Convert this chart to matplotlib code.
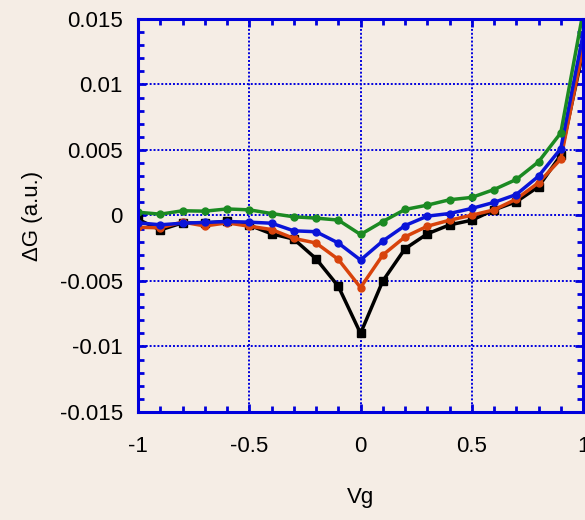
import numpy as np
import matplotlib.pyplot as plt
from matplotlib.ticker import MultipleLocator

plt.rcParams['font.family'] = ['Liberation Sans', 'DejaVu Sans']

vg = [-1.0, -0.9, -0.8, -0.7, -0.6, -0.5, -0.4, -0.3, -0.2, -0.1, 0.0,
      0.1, 0.2, 0.3, 0.4, 0.5, 0.6, 0.7, 0.8, 0.9, 1.0]

dg_black = [-0.0003, -0.0011, -0.00056, -0.0006, -0.00043, -0.00074, -0.0014,
            -0.0018, -0.0033, -0.0054, -0.0090,
            -0.0050, -0.00254, -0.0014, -0.00072, -0.00036, 0.00043, 0.00105,
            0.0022, 0.0046, 0.0125]
dg_orange = [-0.0009, -0.00094, -0.0005, -0.0008, -0.00056, -0.00082, -0.00107,
             -0.00175, -0.0021, -0.00335, -0.0055,
             -0.00302, -0.00163, -0.00082, -0.00036, 0.00002, 0.00043, 0.00125,
             0.0025, 0.0043, 0.0128]
dg_blue = [-0.00056, -0.00071, -0.00059, -0.00053, -0.00046, -0.00051, -0.00059,
           -0.00117, -0.00124, -0.0021, -0.0034,
           -0.00195, -0.00077, -0.00005, 0.00015, 0.00054, 0.001, 0.0016,
           0.003, 0.0051, 0.0138]
dg_green = [0.00025, 0.0001, 0.00036, 0.00033, 0.0005, 0.00043, 0.00015,
            -0.0001, -0.0002, -0.00035, -0.00145,
            -0.00046, 0.00046, 0.00079, 0.0012, 0.00138, 0.00198, 0.00275,
            0.0041, 0.0063, 0.0155]

bg = '#F5EDE5'
frame = '#0000DD'

fig = plt.figure(figsize=(5.85, 5.2), dpi=100, facecolor=bg)
ax = fig.add_axes([0.236, 0.2077, 0.7606, 0.7558], facecolor=bg)

ax.plot(vg, dg_black, '-s', color='black', lw=2.5, ms=5.5)
ax.plot(vg, dg_orange, '-o', color='#D8430C', lw=2.5, ms=5)
ax.plot(vg, dg_blue, '-o', color='#0A14D8', lw=2.5, ms=5)
ax.plot(vg, dg_green, '-o', color='#1B8A22', lw=2.5, ms=5)

ax.set_xlim(-1, 1)
ax.set_ylim(-0.015, 0.015)
ax.xaxis.set_minor_locator(MultipleLocator(0.1))
ax.yaxis.set_minor_locator(MultipleLocator(0.001))
ax.set_xticks([-1, -0.5, 0, 0.5, 1])
ax.set_xticklabels(['-1', '-0.5', '0', '0.5', '1'])
ax.set_yticks([-0.015, -0.01, -0.005, 0, 0.005, 0.01, 0.015])
ax.set_yticklabels(['-0.015', '-0.01', '-0.005', '0', '0.005', '0.01', '0.015'])

ax.grid(True, which='major', color=frame, ls=(0, (1, 1)), lw=1.4)
ax.set_axisbelow(True)
for s in ax.spines.values():
    s.set_color(frame)
    s.set_linewidth(2.2)
ax.tick_params(which='both', direction='in', color=frame, top=True, right=True,
               labelsize=16)
ax.tick_params(axis='x', pad=17)
ax.tick_params(axis='y', pad=11)
ax.tick_params(which='major', length=6, width=2)
ax.tick_params(which='minor', length=4, width=2)

ax.set_xlabel('Vg', fontsize=16, labelpad=22)
ax.set_ylabel('\u0394G (a.u.)', fontsize=16, labelpad=12)

fig.savefig('out.png', dpi=100, facecolor=bg)
